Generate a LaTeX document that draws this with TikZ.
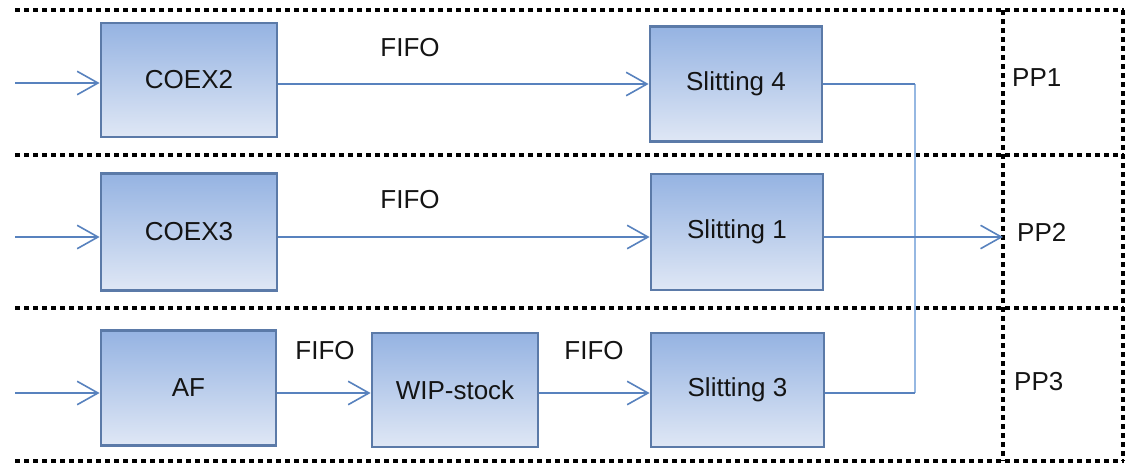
\documentclass[tikz,border=0pt]{standalone}
\usepackage{fontspec}
\setmainfont{Liberation Sans}
\usetikzlibrary{arrows.meta,calc}
\definecolor{boxtop}{RGB}{149,179,226}
\definecolor{boxbot}{RGB}{223,231,245}
\definecolor{boxborder}{RGB}{91,122,168}
\definecolor{conn}{RGB}{88,130,190}
\definecolor{connlight}{RGB}{150,184,226}
\definecolor{txt}{RGB}{20,20,20}
\tikzset{
  procbox/.style={draw=boxborder, line width=2.8pt, top color=boxtop, bottom color=boxbot,
    minimum width=#1, inner sep=0pt, text=txt, font=\fontsize{26}{30}\selectfont},
  lbl/.style={text=txt, font=\fontsize{26}{30}\selectfont, inner sep=0pt},
  conn/.style={draw=conn, line width=1.6pt},
  arr/.style={conn, -{Straight Barb[length=16pt,width=18pt,line width=1.6pt,scale=1.3]}},
  vconn/.style={draw=connlight, line width=2.4pt},
  dotline/.style={draw=black, line width=4.2pt, dash pattern=on 4.5pt off 4.5pt}
}
\begin{document}
\begin{tikzpicture}[x=1pt,y=-1pt]
\useasboundingbox (0,0) rectangle (1127,464);
% dotted lanes
\draw[dotline] (15,10) -- (1124,10);
\draw[dotline] (15,155) -- (1124,155);
\draw[dotline] (15,308) -- (1124,308);
\draw[dotline] (15,461) -- (1124,461);
\draw[dotline] (1003,10) -- (1003,461);
\draw[dotline] (1123,10) -- (1123,461);
% boxes
\node[procbox=176pt, minimum height=114pt] (c2) at (189,80) {COEX2};
\node[procbox=172pt, minimum height=115pt] (s4) at (736,84) {Slitting 4};
\node[procbox=176pt, minimum height=117pt] (c3) at (189,232) {COEX3};
\node[procbox=172pt, minimum height=116pt] (s1) at (737,232) {Slitting 1};
\node[procbox=175pt, minimum height=115pt] (af) at (188.5,388) {AF};
\node[procbox=166pt, minimum height=114pt] (wip) at (455,390) {WIP-stock};
\node[procbox=173pt, minimum height=114pt] (s3) at (737.5,390) {Slitting 3};
% labels
\node[lbl] (f1) at (410,48) {FIFO};
\node[lbl] (f2) at (410,200) {FIFO};
\node[lbl] (f3) at (325,351) {FIFO};
\node[lbl] (f4) at (594,351) {FIFO};
\node[lbl, anchor=west] (pp1) at (1012,78) {PP1};
\node[lbl, anchor=west] (pp2) at (1017,232) {PP2};
\node[lbl, anchor=west] (pp3) at (1014,382) {PP3};
% coordinates
\coordinate (r1) at (15,83);
\coordinate (r2) at (15,237);
\coordinate (r3) at (15,393);
\coordinate (t2) at (1003,237);
\coordinate (j1) at (915,84);
\coordinate (j3) at (915,393);
% row 1
\draw[arr] (r1) -- (r1 -| c2.west);
\draw[arr] (c2.east |- s4.west) -- (s4.west);
% row 2
\draw[arr] (r2) -- (r2 -| c3.west);
\draw[arr] (r2 -| c3.east) -- (r2 -| s1.west);
% row 3
\draw[arr] (r3) -- (r3 -| af.west);
\draw[arr] (r3 -| af.east) -- (r3 -| wip.west);
\draw[arr] (r3 -| wip.east) -- (r3 -| s3.west);
% merge
\draw[vconn] (j1) -- (j3);
\draw[conn] (s4.east) -- (j1);
\draw[conn] (r3 -| s3.east) -- (j3);
\draw[arr] (r2 -| s1.east) -- (t2);
\end{tikzpicture}
\end{document}
